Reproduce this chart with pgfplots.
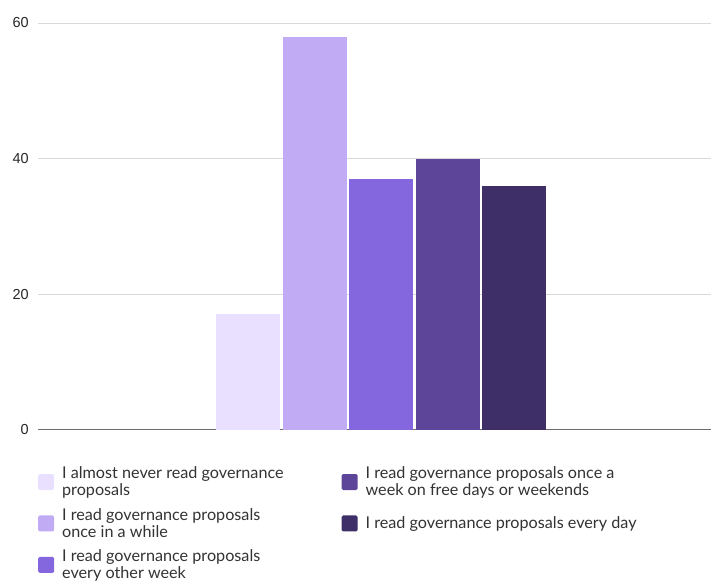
\documentclass[border=0pt]{standalone}
\usepackage{pgfplots}
\pgfplotsset{compat=1.18}
\usepackage{fontspec}
\setmainfont{Lato}
\newfontfamily\tickfont{Liberation Sans}
\definecolor{c1}{RGB}{232,224,254}
\definecolor{c2}{RGB}{192,171,244}
\definecolor{c3}{RGB}{132,102,222}
\definecolor{c4}{RGB}{93,69,153}
\definecolor{c5}{RGB}{62,47,104}
\definecolor{gridc}{RGB}{217,217,217}
\definecolor{zeroc}{RGB}{110,110,110}
\begin{document}
\begin{tikzpicture}
\path (0pt,0pt) rectangle (712pt,580pt);
\begin{axis}[
  at={(38pt,150pt)}, anchor=south west,
  width=674pt, height=407pt, scale only axis,
  xmin=-3.165, xmax=6.97, ymin=0, ymax=60,
  ytick={0,20,40,60}, xtick=\empty,
  /pgf/number format/assume math mode=true,
  ymajorgrids, major grid style={draw=gridc, line width=0.9pt},
  axis x line*=bottom, axis y line*=left,
  y axis line style={draw=none},
  x axis line style={draw=zeroc, line width=1.1pt},
  major tick length=0pt,
  yticklabel style={font=\tickfont\fontsize{14.5}{16}\selectfont, text=black!85, inner sep=0pt, xshift=-9pt},
  ybar, bar shift=0pt, bar width=0.965,
  every axis plot/.append style={draw=none},
  clip=false,
  legend columns=2,
  legend style={draw=none, fill=none, at={(0,-0.091)}, anchor=north west,
    inner xsep=0pt, inner ysep=0pt,
    nodes={inner sep=0pt, align=left, font=\fontsize{16.2}{17}\selectfont, text=black!80},
    /tikz/every odd column/.append style={column sep=8pt},
    /tikz/every even column/.append style={column sep=58pt},
    row sep=11pt},
  legend cell align=left,
]
\addplot[fill=c1, legend image code/.code={\fill[c1, rounded corners=1.5pt] (0pt,-8pt) rectangle (16pt,8pt);}] coordinates {(0,17)};
\addlegendentry{I almost never read governance\\proposals}
\addplot[fill=c4, legend image code/.code={\fill[c4, rounded corners=1.5pt] (0pt,-8pt) rectangle (16pt,8pt);}] coordinates {(3,40)};
\addlegendentry{I read governance proposals once a\\week on free days or weekends}
\addplot[fill=c2, legend image code/.code={\fill[c2, rounded corners=1.5pt] (0pt,-8pt) rectangle (16pt,8pt);}] coordinates {(1,58)};
\addlegendentry{I read governance proposals\\once in a while}
\addplot[fill=c5, legend image code/.code={\fill[c5, rounded corners=1.5pt] (0pt,-8pt) rectangle (16pt,8pt);}] coordinates {(4,36)};
\addlegendentry{I read governance proposals every day}
\addplot[fill=c3, legend image code/.code={\fill[c3, rounded corners=1.5pt] (0pt,-8pt) rectangle (16pt,8pt);}] coordinates {(2,37)};
\addlegendentry{I read governance proposals\\every other week}
\end{axis}
\end{tikzpicture}
\end{document}
